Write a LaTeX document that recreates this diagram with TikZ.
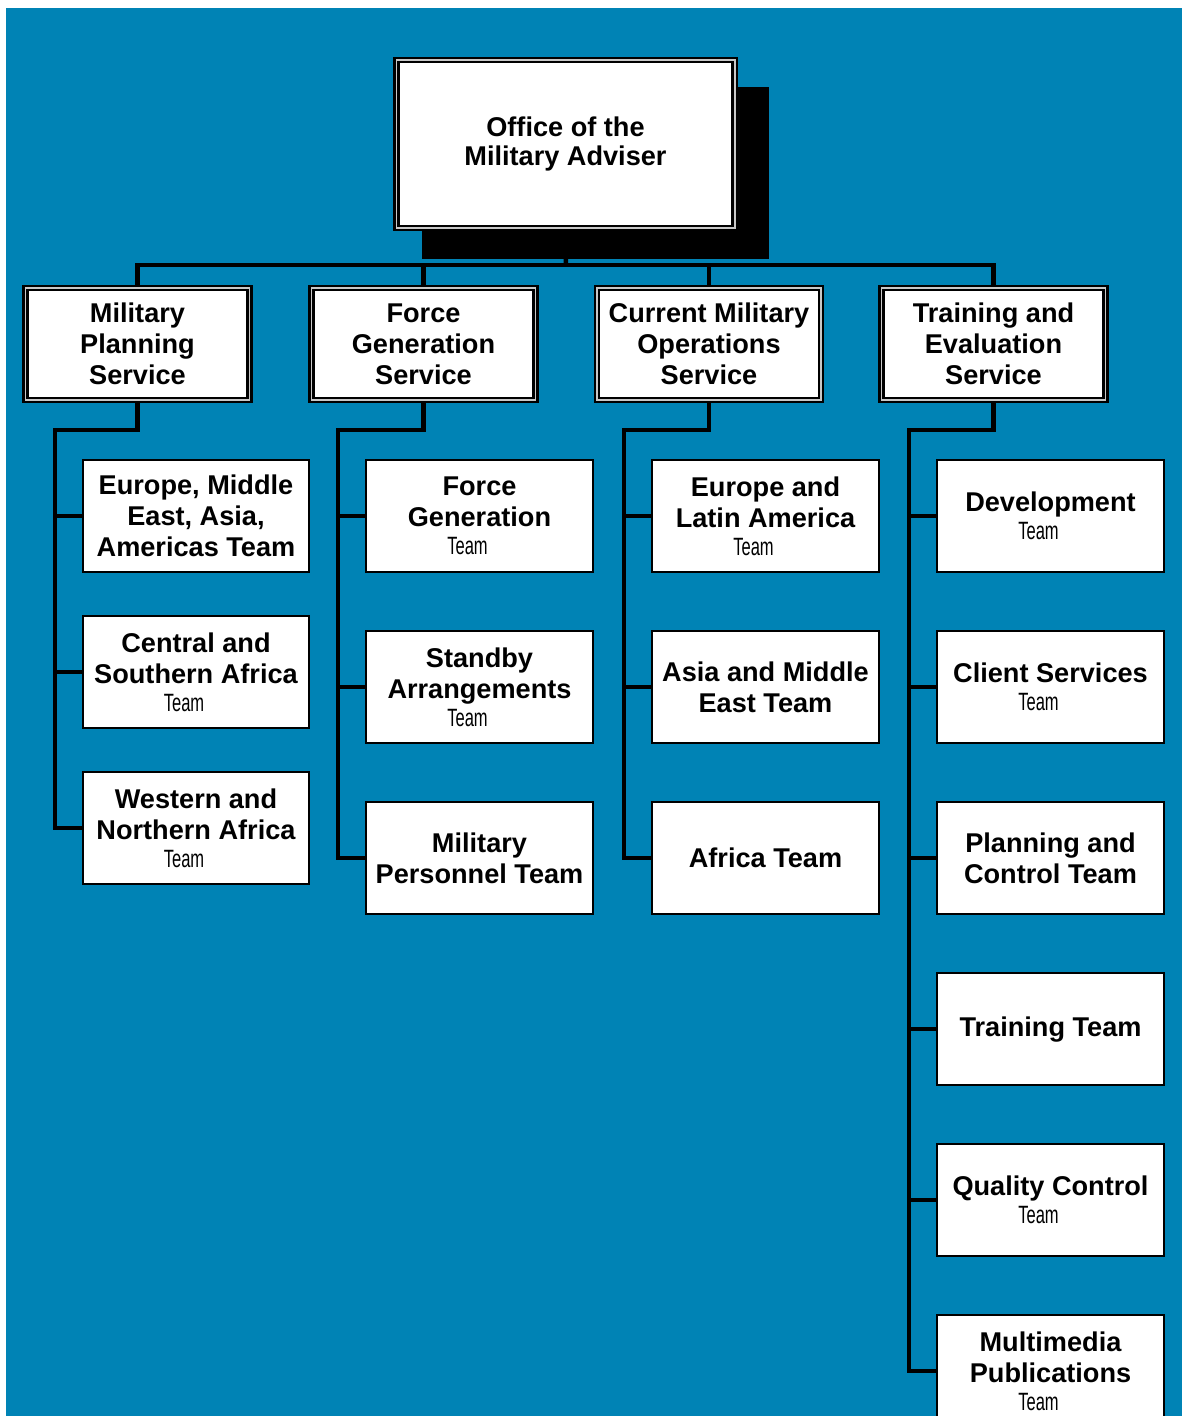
\documentclass[tikz,border=0pt]{standalone}
\usepackage{fontspec}
\setmainfont{Liberation Sans}
\newfontfamily\teamfont[FakeStretch=0.66]{Liberation Sans}
\usetikzlibrary{positioning, shadows, calc}
\definecolor{unblue}{RGB}{0,131,181}
\definecolor{rimgray}{RGB}{200,200,200}
\newcommand{\teamrow}{\\[-2pt]{\teamfont\mdseries\fontsize{17.8}{20}\selectfont Team}\rule{0.6cm}{0pt}}

\begin{document}
\begin{tikzpicture}[
    x=0.025cm, y=-0.025cm,
    node distance=1.425cm,
    every node/.style = {align=center, inner sep=2pt, font=\bfseries\fontsize{19.3}{22}\selectfont},
    office/.style = {draw=black, double=rimgray, line width=0.0625cm, double distance=0.0375cm, fill=white,
        minimum width=8.46cm, minimum height=4.19cm, font=\bfseries\fontsize{19.3}{20.6}\selectfont,
        drop shadow={shadow xshift=0.74cm, shadow yshift=-0.7cm, shadow scale=1.025, fill=black, opacity=1}},
    service/.style = {draw=black, double=rimgray, line width=0.0625cm, double distance=0.0375cm, fill=white,
        minimum width=5.61cm, minimum height=2.79cm},
    team/.style = {draw=black, line width=0.05cm, fill=white, minimum width=5.65cm, minimum height=2.8cm},
    link/.style = {draw=black, line width=0.1125cm, line join=miter}
]
    \useasboundingbox (0,0) rectangle (1182,1416);
    \fill[unblue] (6,8) rectangle (1182,1416);

    % head office and services
    \node [office] (oma) at (565.5,144) {Office of the\\Military Adviser};
    \node [service] (mps) at (137.5,344) {Military\\Planning\\Service};
    \node [service] (fgs) at (423.5,344) {Force\\Generation\\Service};
    \node [service] (cmos) at (709,344) {Current Military\\Operations\\Service};
    \node [service] (tes) at (993.5,344) {Training and\\Evaluation\\Service};

    % teams
    \node [team] (emea) at (196,516) {Europe, Middle\\East, Asia,\\Americas Team};
    \node [team, below=1.05cm of emea] (csaf) {Central and\\Southern Africa\teamrow};
    \node [team, below=1.05cm of csaf] (wnaf) {Western and\\Northern Africa\teamrow};

    \node [team] (fgt) at (479.5,516) {Force\\Generation\teamrow};
    \node [team, below=of fgt] (sba) {Standby\\Arrangements\teamrow};
    \node [team, below=of sba] (mpt) {Military\\Personnel Team};

    \node [team] (elat) at (765.5,516) {Europe and\\Latin America\teamrow};
    \node [team, below=of elat] (asme) {Asia and Middle\\East Team};
    \node [team, below=of asme] (afr) {Africa Team};

    \node [team] (dev) at (1050.5,516) {Development\teamrow};
    \node [team, below=of dev] (cst) {Client Services\teamrow};
    \node [team, below=of cst] (pct) {Planning and\\Control Team};
    \node [team, below=of pct] (trn) {Training Team};
    \node [team, below=of trn] (qct) {Quality Control\teamrow};
    \node [team, below=of qct] (mmp) {Multimedia\\Publications\teamrow};

    % bus to the services
    \coordinate (bus) at (566,265);
    \draw [link] (oma.south) -- (bus);
    \draw [link] (mps.north) |- (bus) -| (tes.north);
    \draw [link] (fgs.north) -- (fgs.north |- bus);
    \draw [link] (cmos.north) -- (cmos.north |- bus);

    % services to teams
    \coordinate (mpsbar) at (55,430);
    \coordinate (fgsbar) at (338,430);
    \coordinate (cmosbar) at (624,430);
    \coordinate (tesbar) at (909,430);

    \draw [link] (mps.south) |- (mpsbar) |- (emea.west);
    \draw [link] (mpsbar) |- (csaf.west);
    \draw [link] (mpsbar) |- (wnaf.west);

    \draw [link] (fgs.south) |- (fgsbar) |- (fgt.west);
    \draw [link] (fgsbar) |- (sba.west);
    \draw [link] (fgsbar) |- (mpt.west);

    \draw [link] (cmos.south) |- (cmosbar) |- (elat.west);
    \draw [link] (cmosbar) |- (asme.west);
    \draw [link] (cmosbar) |- (afr.west);

    \draw [link] (tes.south) |- (tesbar) |- (dev.west);
    \draw [link] (tesbar) |- (cst.west);
    \draw [link] (tesbar) |- (pct.west);
    \draw [link] (tesbar) |- (trn.west);
    \draw [link] (tesbar) |- (qct.west);
    \draw [link] (tesbar) |- (mmp.west);
\end{tikzpicture}
\end{document}
